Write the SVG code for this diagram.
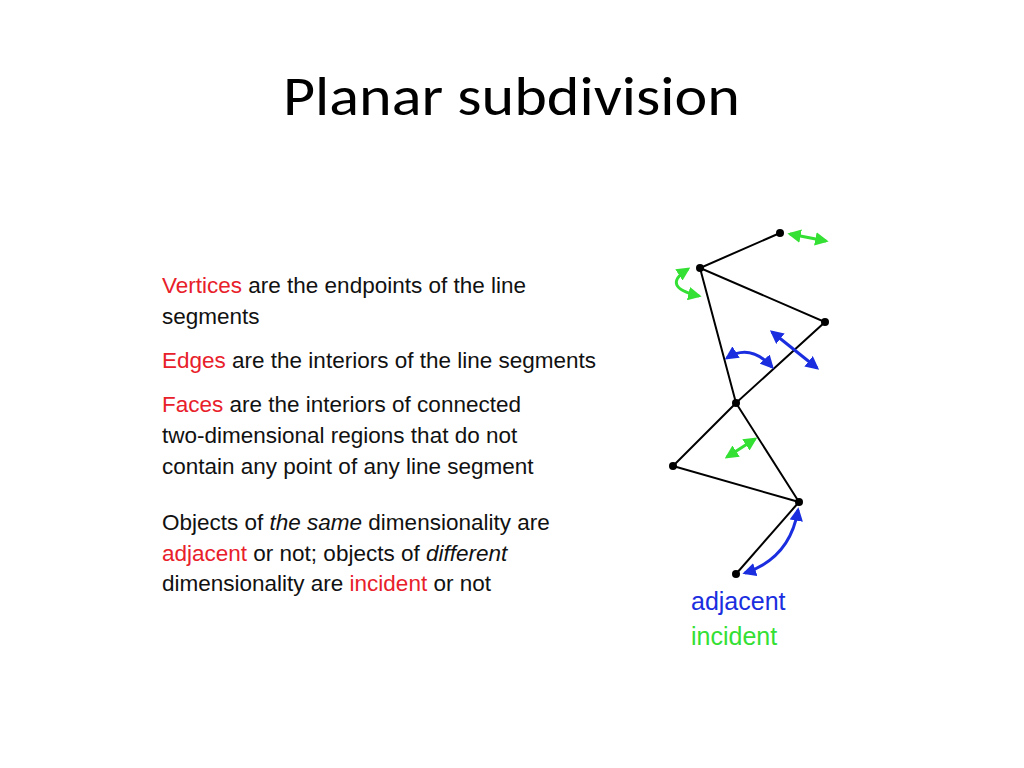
<svg xmlns="http://www.w3.org/2000/svg" width="1024" height="768" viewBox="0 0 1024 768">
<style>
.t{font-family:"Liberation Sans",Arial,sans-serif;font-size:22.5px;fill:#111}
.r{fill:#e8202a}
.e{stroke:#000;stroke-width:2;fill:none}
.b{stroke:#1a2ee0;stroke-width:3;fill:none;marker-start:url(#ab);marker-end:url(#ab)}
.g{stroke:#33e033;stroke-width:3;fill:none;marker-start:url(#ag);marker-end:url(#ag)}
</style>
<defs>
<marker id="ab" viewBox="0 0 10 10" refX="8" refY="5" markerWidth="4.5" markerHeight="4.5" orient="auto-start-reverse"><path d="M0,0L10,5L0,10z" fill="#1a2ee0"/></marker>
<marker id="ag" viewBox="0 0 10 10" refX="8" refY="5" markerWidth="4.5" markerHeight="4.5" orient="auto-start-reverse"><path d="M0,0L10,5L0,10z" fill="#33e033"/></marker>
</defs>
<rect width="1024" height="768" fill="#fff"/>
<text x="283" y="115" textLength="457" lengthAdjust="spacingAndGlyphs" font-family="Carlito,'Liberation Sans',sans-serif" font-size="56" fill="#000">Planar subdivision</text>
<g id="text">
<text class="t" x="162" y="293"><tspan class="r">Vertices</tspan> are the endpoints of the line</text>
<text class="t" x="162" y="324">segments</text>
<text class="t" x="162" y="368"><tspan class="r">Edges</tspan> are the interiors of the line segments</text>
<text class="t" x="162" y="412"><tspan class="r">Faces</tspan> are the interiors of connected</text>
<text class="t" x="162" y="443">two-dimensional regions that do not</text>
<text class="t" x="162" y="474">contain any point of any line segment</text>
<text class="t" x="162" y="530">Objects of <tspan font-style="italic">the same</tspan> dimensionality are</text>
<text class="t" x="162" y="561"><tspan class="r">adjacent</tspan> or not; objects of <tspan font-style="italic">different</tspan></text>
<text class="t" x="162" y="591">dimensionality are <tspan class="r">incident</tspan> or not</text>
</g>
<g id="connectors">
<polyline class="e" points="780,233 700,268 825,322 736,403 700,268"/>
<polyline class="e" points="736,403 673,466 799,502 736,403"/>
<line class="e" x1="799" y1="502" x2="736" y2="574"/>
<path class="b" d="M727,358 Q750,343 772,367"/>
<line class="b" x1="772" y1="332" x2="817" y2="368"/>
<path class="b" d="M745,573 Q790,558 798,510"/>
<line class="g" x1="790" y1="234" x2="826" y2="241"/>
<path class="g" d="M688,269 Q660,287 699,296"/>
<line class="g" x1="727" y1="457" x2="755" y2="439"/>
</g>
<g id="vertices" fill="#000">
<circle cx="780" cy="233" r="4"/><circle cx="700" cy="268" r="4"/><circle cx="825" cy="322" r="4"/><circle cx="736" cy="403" r="4"/><circle cx="673" cy="466" r="4"/><circle cx="799" cy="502" r="4"/><circle cx="736" cy="574" r="4"/>
</g>
<g id="legend">
<text class="t" x="691" y="610" style="fill:#1a2ee0;font-size:25px">adjacent</text>
<text class="t" x="691" y="645" style="fill:#33e033;font-size:25px">incident</text>
</g>
</svg>
